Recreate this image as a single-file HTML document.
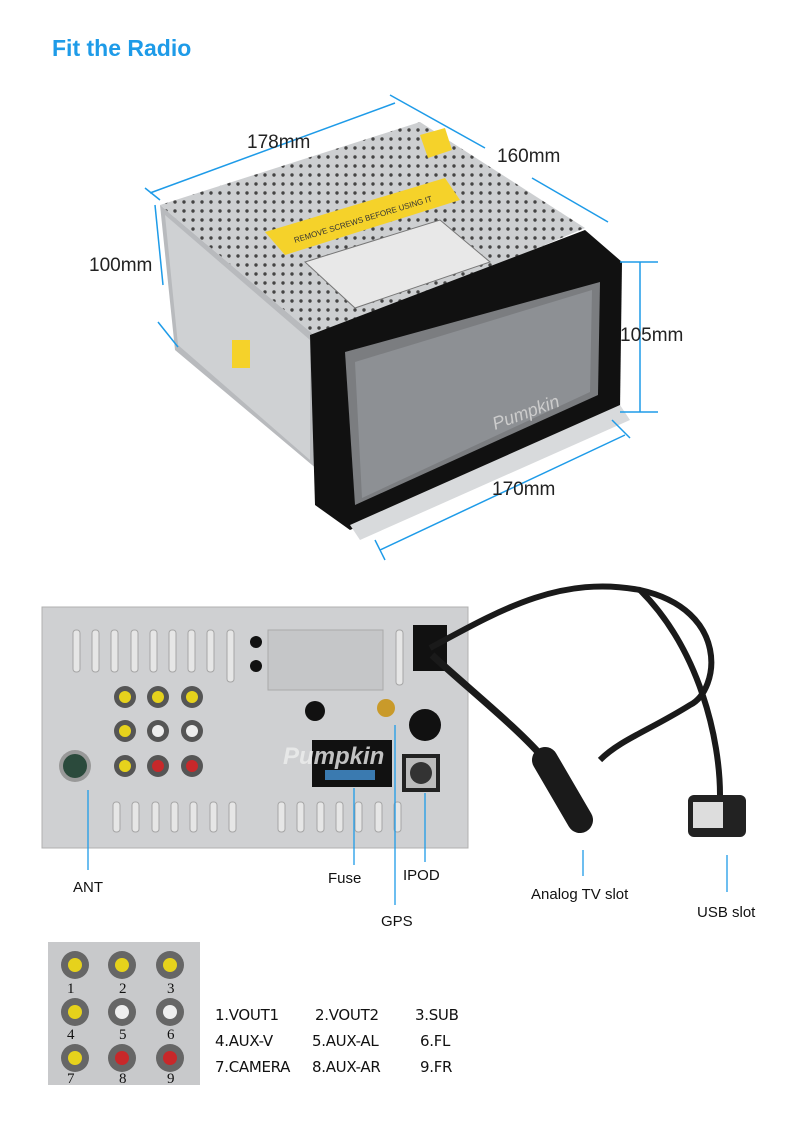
<!DOCTYPE html>
<html><head><meta charset="utf-8"><style>
body{margin:0;background:#fff;}
svg{display:block;font-family:"Liberation Sans",sans-serif;}
</style></head><body>
<svg width="800" height="1123" viewBox="0 0 800 1123" xmlns="http://www.w3.org/2000/svg">
<defs>
<pattern id="dots" width="9" height="9" patternUnits="userSpaceOnUse"><rect width="9" height="9" fill="#cdcfd1"/><circle cx="4" cy="4" r="1.7" fill="#444"/></pattern>
</defs>
<text x="52" y="56" font-size="23" font-weight="bold" fill="#1e9be8">Fit the Radio</text>

<polygon points="160,205 420,122 585,228 320,340" fill="url(#dots)"/>
<polygon points="265,232 445,178 460,200 285,255" fill="#f5d22a"/>
<text x="295" y="243" font-size="8" fill="#333" transform="rotate(-17 295 243)">REMOVE SCREWS BEFORE USING IT</text>
<polygon points="305,262 440,220 490,262 355,308" fill="#e8e8e8" stroke="#777"/>
<polygon points="420,135 445,128 452,150 428,158" fill="#f5d22a"/>
<polygon points="160,205 320,340 318,470 175,350" fill="#b8babd"/>
<polygon points="165,215 310,340 310,460 178,345" fill="#cfd1d3"/>
<rect x="232" y="340" width="18" height="28" fill="#f5d22a"/>
<polygon points="310,335 585,230 622,262 620,410 350,530 315,505" fill="#111"/>
<polygon points="345,352 600,282 598,395 355,505" fill="#7b7d80"/>
<polygon points="355,362 592,290 590,392 362,498" fill="#8d9094"/>
<polygon points="350,525 620,405 630,420 360,540" fill="#d8dadc"/>
<text x="495" y="430" font-size="18" font-style="italic" fill="#ccc" transform="rotate(-20 495 430)">Pumpkin</text>

<g stroke="#1e9be8" stroke-width="1.5" fill="none">
<line x1="150" y1="193" x2="395" y2="103"/>
<line x1="390" y1="95" x2="485" y2="148"/>
<line x1="532" y1="178" x2="608" y2="222"/>
<line x1="145" y1="188" x2="160" y2="200"/>
<line x1="155" y1="205" x2="163" y2="285"/>
<line x1="158" y1="322" x2="178" y2="347"/>
<line x1="620" y1="262" x2="658" y2="262"/>
<line x1="640" y1="262" x2="640" y2="412"/>
<line x1="620" y1="412" x2="658" y2="412"/>
<line x1="380" y1="550" x2="625" y2="435"/>
<line x1="375" y1="540" x2="385" y2="560"/>
<line x1="612" y1="420" x2="630" y2="438"/>
</g>
<text x="247" y="148" font-size="19" fill="#222">178mm</text>
<text x="497" y="162" font-size="19" fill="#222">160mm</text>
<text x="89" y="271" font-size="19" fill="#222">100mm</text>
<text x="620" y="341" font-size="19" fill="#222">105mm</text>
<text x="492" y="495" font-size="19" fill="#222">170mm</text>

<rect x="42" y="607" width="426" height="241" fill="#cfd0d2" stroke="#b0b0b0"/>
<g fill="#e6e6e6" stroke="#a5a5a5">
<rect x="73" y="630" width="7" height="42" rx="3"/><rect x="92" y="630" width="7" height="42" rx="3"/><rect x="111" y="630" width="7" height="42" rx="3"/><rect x="131" y="630" width="7" height="42" rx="3"/><rect x="150" y="630" width="7" height="42" rx="3"/><rect x="169" y="630" width="7" height="42" rx="3"/><rect x="188" y="630" width="7" height="42" rx="3"/><rect x="207" y="630" width="7" height="42" rx="3"/><rect x="227" y="630" width="7" height="52" rx="3"/>
<rect x="396" y="630" width="7" height="55" rx="3"/>
<rect x="113" y="802" width="7" height="30" rx="3"/><rect x="132" y="802" width="7" height="30" rx="3"/><rect x="152" y="802" width="7" height="30" rx="3"/><rect x="171" y="802" width="7" height="30" rx="3"/><rect x="190" y="802" width="7" height="30" rx="3"/><rect x="210" y="802" width="7" height="30" rx="3"/><rect x="229" y="802" width="7" height="30" rx="3"/>
<rect x="278" y="802" width="7" height="30" rx="3"/><rect x="297" y="802" width="7" height="30" rx="3"/><rect x="317" y="802" width="7" height="30" rx="3"/><rect x="336" y="802" width="7" height="30" rx="3"/><rect x="355" y="802" width="7" height="30" rx="3"/><rect x="375" y="802" width="7" height="30" rx="3"/><rect x="394" y="802" width="7" height="30" rx="3"/>
</g>
<rect x="268" y="630" width="115" height="60" fill="#c5c6c8" stroke="#aaa"/>
<circle cx="256" cy="642" r="6" fill="#111"/><circle cx="256" cy="666" r="6" fill="#111"/>
<g>
<circle cx="125" cy="697" r="11" fill="#555"/><circle cx="125" cy="697" r="6" fill="#e6d21c"/>
<circle cx="158" cy="697" r="11" fill="#555"/><circle cx="158" cy="697" r="6" fill="#e6d21c"/>
<circle cx="192" cy="697" r="11" fill="#555"/><circle cx="192" cy="697" r="6" fill="#e6d21c"/>
<circle cx="125" cy="731" r="11" fill="#555"/><circle cx="125" cy="731" r="6" fill="#e6d21c"/>
<circle cx="158" cy="731" r="11" fill="#555"/><circle cx="158" cy="731" r="6" fill="#eee"/>
<circle cx="192" cy="731" r="11" fill="#555"/><circle cx="192" cy="731" r="6" fill="#eee"/>
<circle cx="125" cy="766" r="11" fill="#555"/><circle cx="125" cy="766" r="6" fill="#e6d21c"/>
<circle cx="158" cy="766" r="11" fill="#555"/><circle cx="158" cy="766" r="6" fill="#c8282a"/>
<circle cx="192" cy="766" r="11" fill="#555"/><circle cx="192" cy="766" r="6" fill="#c8282a"/>
</g>
<circle cx="75" cy="766" r="16" fill="#999"/><circle cx="75" cy="766" r="12" fill="#2b4a3c"/>
<circle cx="315" cy="711" r="10" fill="#111"/>
<circle cx="386" cy="708" r="9" fill="#c99a2a"/>
<circle cx="425" cy="725" r="16" fill="#111"/>
<rect x="312" y="740" width="80" height="47" fill="#111"/>
<rect x="325" y="770" width="50" height="10" fill="#3a7ab0"/>
<text x="283" y="764" font-size="24" font-style="italic" font-weight="bold" fill="#eee" opacity="0.8">Pumpkin</text>
<rect x="402" y="754" width="38" height="38" fill="#222"/><rect x="406" y="758" width="30" height="30" fill="#bbb"/><circle cx="421" cy="773" r="11" fill="#333"/>
<rect x="413" y="625" width="34" height="46" fill="#111"/>
<path d="M430 648 C500 610 560 575 640 590 C730 610 720 690 690 705 C650 730 620 740 600 760" stroke="#1a1a1a" stroke-width="6" fill="none"/>
<path d="M432 655 C470 690 520 730 545 760" stroke="#1a1a1a" stroke-width="7" fill="none"/>
<path d="M545 760 L580 820" stroke="#1a1a1a" stroke-width="26" stroke-linecap="round"/>
<path d="M640 590 C700 650 720 740 720 795" stroke="#1a1a1a" stroke-width="6" fill="none"/>
<rect x="688" y="795" width="58" height="42" rx="6" fill="#222"/>
<rect x="693" y="802" width="30" height="26" fill="#ddd"/>

<g stroke="#1e9be8" stroke-width="1.3">
<line x1="88" y1="790" x2="88" y2="870"/>
<line x1="354" y1="788" x2="354" y2="865"/>
<line x1="395" y1="725" x2="395" y2="905"/>
<line x1="425" y1="793" x2="425" y2="862"/>
<line x1="583" y1="850" x2="583" y2="876"/>
<line x1="727" y1="855" x2="727" y2="892"/>
</g>
<g font-size="15" fill="#111">
<text x="73" y="892">ANT</text>
<text x="328" y="883">Fuse</text>
<text x="403" y="880">IPOD</text>
<text x="381" y="926">GPS</text>
<text x="531" y="899">Analog TV slot</text>
<text x="697" y="917">USB  slot</text>
</g>

<rect x="48" y="942" width="152" height="143" fill="#c8c9cb"/>
<g>
<circle cx="75" cy="965" r="14" fill="#666"/><circle cx="75" cy="965" r="7" fill="#e6d21c"/>
<circle cx="122" cy="965" r="14" fill="#666"/><circle cx="122" cy="965" r="7" fill="#e6d21c"/>
<circle cx="170" cy="965" r="14" fill="#666"/><circle cx="170" cy="965" r="7" fill="#e6d21c"/>
<circle cx="75" cy="1012" r="14" fill="#666"/><circle cx="75" cy="1012" r="7" fill="#e6d21c"/>
<circle cx="122" cy="1012" r="14" fill="#666"/><circle cx="122" cy="1012" r="7" fill="#eee"/>
<circle cx="170" cy="1012" r="14" fill="#666"/><circle cx="170" cy="1012" r="7" fill="#eee"/>
<circle cx="75" cy="1058" r="14" fill="#666"/><circle cx="75" cy="1058" r="7" fill="#e6d21c"/>
<circle cx="122" cy="1058" r="14" fill="#666"/><circle cx="122" cy="1058" r="7" fill="#c8282a"/>
<circle cx="170" cy="1058" r="14" fill="#666"/><circle cx="170" cy="1058" r="7" fill="#c8282a"/>
</g>
<g font-size="15" fill="#111" font-family="Liberation Serif,serif">
<text x="67" y="993">1</text><text x="119" y="993">2</text><text x="167" y="993">3</text>
<text x="67" y="1039">4</text><text x="119" y="1039">5</text><text x="167" y="1039">6</text>
<text x="67" y="1083">7</text><text x="119" y="1083">8</text><text x="167" y="1083">9</text>
</g>
<g font-size="15" fill="#111" font-family="DejaVu Sans,sans-serif" letter-spacing="-0.3">
<text x="215" y="1020">1.VOUT1</text><text x="315" y="1020">2.VOUT2</text><text x="415" y="1020">3.SUB</text>
<text x="215" y="1046">4.AUX-V</text><text x="312" y="1046">5.AUX-AL</text><text x="420" y="1046">6.FL</text>
<text x="215" y="1072">7.CAMERA</text><text x="312" y="1072">8.AUX-AR</text><text x="420" y="1072">9.FR</text>
</g>
</svg>
</body></html>
